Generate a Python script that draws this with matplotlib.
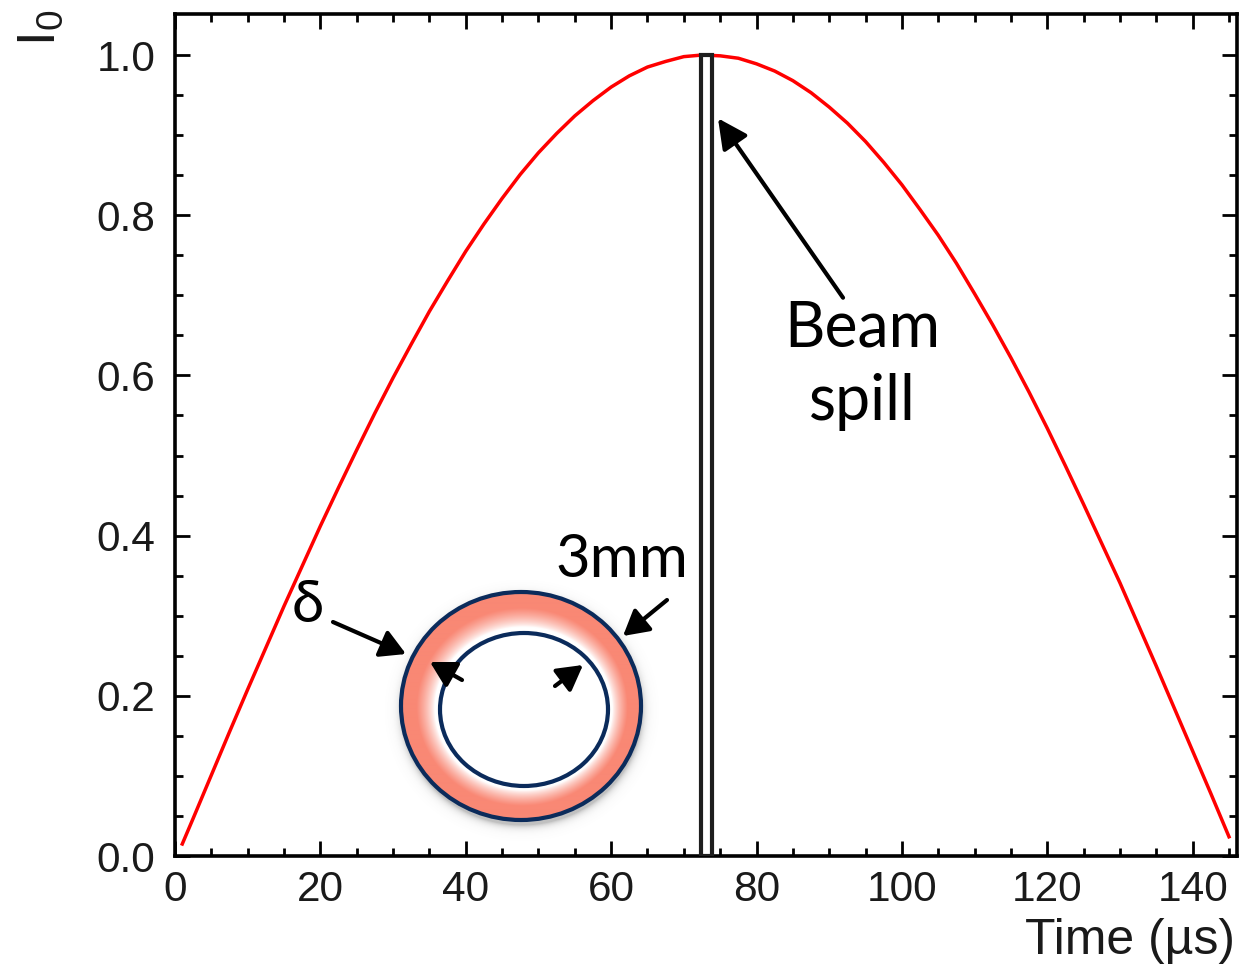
import numpy as np
import matplotlib.pyplot as plt
from matplotlib.patches import Ellipse, Rectangle

# normalised horn current over the pulse
time_us = [1, 2.5, 5, 7.5, 10, 12.5, 15, 17.5, 20, 22.5, 25, 27.5, 30, 32.5, 35, 37.5,
           40, 42.5, 45, 47.5, 50, 52.5, 55, 57.5, 60, 62.5, 65, 67.5, 70, 72.5,
           75, 77.5, 80, 82.5, 85, 87.5, 90, 92.5, 95, 97.5, 100, 102.5, 105, 107.5,
           110, 112.5, 115, 117.5, 120, 122.5, 125, 127.5, 130, 132.5, 135, 137.5,
           140, 142.5, 145]
current = [0.015, 0.047, 0.101, 0.155, 0.208, 0.260, 0.312, 0.362, 0.412, 0.460,
           0.507, 0.553, 0.597, 0.639, 0.680, 0.718, 0.755, 0.789, 0.821, 0.851,
           0.878, 0.902, 0.924, 0.943, 0.960, 0.974, 0.985, 0.992, 0.998, 1.000,
           0.999, 0.996, 0.989, 0.980, 0.968, 0.953, 0.935, 0.915, 0.892, 0.866,
           0.838, 0.807, 0.775, 0.740, 0.702, 0.663, 0.622, 0.579, 0.534, 0.487,
           0.439, 0.390, 0.341, 0.289, 0.237, 0.184, 0.131, 0.078, 0.024]

# beam spill window
spill_start = 72.3
spill_end = 73.9
spill_level = 1.0

x_ticks = [0, 20, 40, 60, 80, 100, 120, 140]
y_ticks = [0.0, 0.2, 0.4, 0.6, 0.8, 1.0]
y_tick_labels = ["0.0", "0.2", "0.4", "0.6", "0.8", "1.0"]

W, H = 1242, 972
fig = plt.figure(figsize=(W / 100, H / 100), dpi=100)
plt.rcParams['font.family'] = ['Liberation Sans', 'DejaVu Sans']
note_font = ['Lato', 'DejaVu Sans']

ax = fig.add_axes([175 / W, 1 - 856 / H, (1237 - 175) / W, (856 - 14.5) / H])
ax.plot(time_us, current, color='#ff0000', lw=2.5, zorder=3)

ax.add_patch(Rectangle((spill_start, 0), spill_end - spill_start, spill_level,
                       facecolor='white', edgecolor='#1e1e1e', lw=3, zorder=4))

ax.set_xlim(0, 146.1)
ax.set_ylim(0, 1.0506)
ax.set_xticks(x_ticks)
ax.set_yticks(y_ticks)
ax.set_yticklabels(y_tick_labels)
ax.set_xticks(np.arange(0, 146, 5), minor=True)
ax.set_yticks(np.arange(0, 1.05, 0.05), minor=True)
ax.tick_params(which='both', direction='in', top=True, right=True, width=2,
               labelsize=30.5, labelcolor='#1a1a1a')
ax.tick_params(which='major', length=11)
ax.tick_params(which='minor', length=6)
ax.tick_params(axis='y', pad=14)
ax.tick_params(axis='x', pad=10)
for sp in ax.spines.values():
    sp.set_linewidth(2.6)

ax.set_xlabel('Time (µs)', fontsize=36, loc='right', color='#1a1a1a')
ax.xaxis.set_label_coords(0.998, -0.074)
ax.set_ylabel(r'$\mathregular{I_0}$', fontsize=38, loc='top', color='#1a1a1a')
ax.yaxis.set_label_coords(-0.103, 1.006)

arrow_big = dict(arrowstyle='-|>,head_length=0.9,head_width=0.45', lw=3,
                 color='black', shrinkA=0, shrinkB=0, mutation_scale=20)
ax.annotate('', xy=(74.7, 0.921), xytext=(91.9, 0.697), arrowprops=arrow_big, zorder=5)
# baseline of the last line ("spill")
ax.text(94.6, 0.5443, 'Beam\nspill', fontsize=45, family=note_font,
        ha='center', va='baseline', linespacing=1.33)

# conductor cross-section sketch, in pixel units
ov = fig.add_axes([0, 0, 1, 1])
ov.axis('off')

outer = (521, 706, 120, 114)
inner = (524, 709.5, 84, 76.5)
navy = '#0b2b5b'
salmon = np.array([249, 136, 117]) / 255


def ell_r(x, y, e):
    cx, cy, rx, ry = e
    return np.sqrt(((x - cx) / rx) ** 2 + ((y - cy) / ry) ** 2)


xs = np.arange(380, 670) + 0.5
ys = np.arange(570, 850) + 0.5
X, Y = np.meshgrid(xs, ys)
ro = ell_r(X, Y, outer)
ri = ell_r(X, Y, inner)
t = np.clip((ri - 1) / np.maximum(ri - ro, 1e-6), 0, 1)
f = np.clip((t - 0.18) / 0.5, 0, 1) ** 0.85
img = np.ones(X.shape + (4,))
for k in range(3):
    img[..., k] = 1 - f * (1 - salmon[k])
band = (ro <= 1) & (ri >= 1)
# soft drop shadow below the outer ring
rs = ell_r(X, Y, (outer[0] + 1, outer[1] + 5, outer[2], outer[3]))
shadow = 0.45 * np.exp(-np.clip(rs - 1, 0, None) * 115 / 3.5) * (ro > 1)
img[..., 3] = np.where(band, 1.0, shadow)
img[..., :3] = np.where(band[..., None], img[..., :3], 0.45)
ov.imshow(img, extent=(380, 670, 850, 570), origin='upper', interpolation='bilinear',
          aspect='auto')

for cx, cy, rx, ry in (outer, inner):
    ov.add_patch(Ellipse((cx, cy), 2 * rx, 2 * ry, fill=False, ec=navy, lw=3))

arrow_small = dict(arrowstyle='-|>,head_length=0.8,head_width=0.45', lw=3,
                   color='black', shrinkA=0, shrinkB=0, mutation_scale=19)
ov.annotate('', xy=(406, 654), xytext=(333, 622), arrowprops=arrow_small)
ov.annotate('', xy=(430, 662), xytext=(462, 680), arrowprops=arrow_small)
ov.annotate('', xy=(583, 665), xytext=(555, 686), arrowprops=arrow_small)
ov.annotate('', xy=(623, 636), xytext=(667, 600), arrowprops=arrow_small)
ov.text(308, 622, 'δ', fontsize=42, family=note_font, ha='center', va='baseline')
ov.text(622, 577, '3mm', fontsize=43, family=note_font, ha='center', va='baseline')

ov.set_xlim(0, W)
ov.set_ylim(H, 0)

fig.savefig('out.png', dpi=100)
